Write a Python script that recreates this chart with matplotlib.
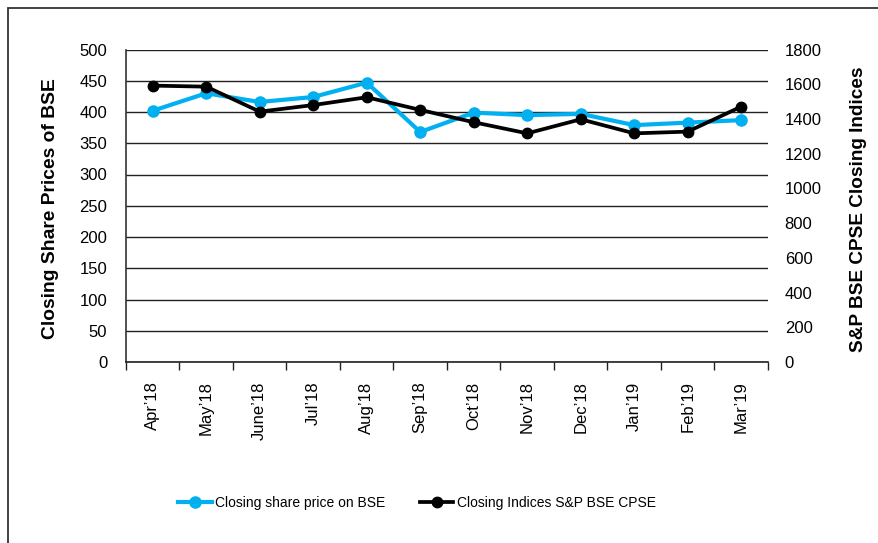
import matplotlib
matplotlib.use("Agg")
import matplotlib.pyplot as plt
from matplotlib.patches import Rectangle
from matplotlib.ticker import FixedLocator, MultipleLocator
import numpy as np

plt.rcParams['font.family'] = ['Liberation Sans', 'DejaVu Sans']

months = ["Apr’18", "May’18", "June’18", "Jul’18", "Aug’18", "Sep’18",
          "Oct’18", "Nov’18", "Dec’18", "Jan’19", "Feb’19", "Mar’19"]
share_price = [402, 430, 416, 424, 447, 368, 399, 395, 397, 379, 383, 387]
cpse_index = [1592, 1586, 1442, 1480, 1525, 1452, 1381, 1317, 1398, 1317, 1327, 1471]

blue = "#00B0F0"

fig = plt.figure(figsize=(8.79, 5.43), dpi=100)
ax = fig.add_axes([126/879, 1-362/543, (768-126)/879, (362-49.5)/543])
ax2 = ax.twinx()

x = np.arange(len(months))
ax.plot(x, share_price, color=blue, lw=3, marker='o', ms=8, zorder=3,
        label="Closing share price on BSE")
ax2.plot(x, cpse_index, color='black', lw=2.7, marker='o', ms=7.5, zorder=3,
         label="Closing Indices S&P BSE CPSE")

ax.set_xlim(-0.5, len(months) - 0.5)
ax.set_ylim(0, 500)
ax2.set_ylim(0, 1800)
ax.yaxis.set_major_locator(MultipleLocator(50))
ax2.yaxis.set_major_locator(MultipleLocator(200))

ax.set_xticks(x)
ax.set_xticklabels(months, rotation=90, fontsize=12)
ax.xaxis.set_minor_locator(FixedLocator(np.arange(-0.5, len(months), 1.0)))
ax.tick_params(axis='x', which='major', length=0, pad=14)
ax.tick_params(axis='x', which='minor', length=6, width=1, direction='out', color='#222222')
ax.tick_params(axis='y', length=0, pad=13.5, labelsize=12)
ax2.tick_params(axis='y', length=0, pad=12, labelsize=12)

ax.grid(axis='y', color='#222222', lw=1)
ax.set_axisbelow(True)
for s in ['top', 'right']:
    ax.spines[s].set_visible(False)
for s in ['top', 'right', 'left', 'bottom']:
    ax2.spines[s].set_visible(False)
ax.spines['left'].set_color('#333333')
ax.spines['bottom'].set_color('#222222')
ax.spines['left'].set_linewidth(1.2)
ax.spines['bottom'].set_linewidth(1.2)

fig.text(51/879, 1-209/543, "Closing Share Prices of BSE", fontsize=13.9,
         fontweight='bold', rotation=90, ha='center', va='center')
fig.text(859/879, 1-209.5/543, "S&P BSE CPSE Closing Indices", fontsize=13.7,
         fontweight='bold', rotation=90, ha='center', va='center')

h1, l1 = ax.get_legend_handles_labels()
h2, l2 = ax2.get_legend_handles_labels()
fig.legend(h1 + h2, l1 + l2, loc='center', bbox_to_anchor=(417/879, 1-503/543),
           ncol=2, frameon=False, fontsize=10, handlelength=2.4, columnspacing=2.5,
           handletextpad=0.25)

fig.patches.append(Rectangle((8/879, -0.1), 1.2, 1.1 - 8/543,
                             transform=fig.transFigure, fill=False,
                             edgecolor='#333333', lw=1.3))

fig.savefig("out.png", dpi=100)
